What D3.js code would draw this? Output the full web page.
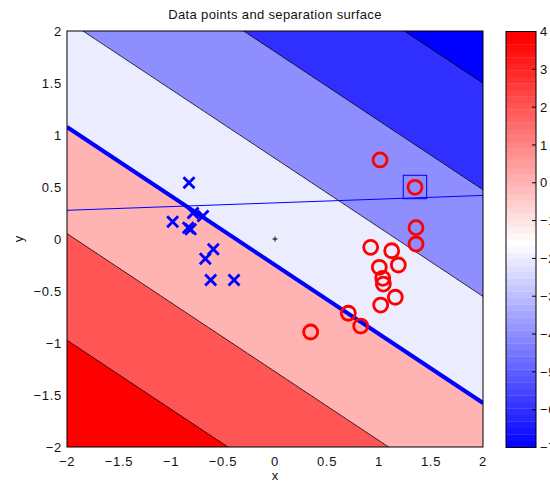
<!DOCTYPE html>
<html><head><meta charset="utf-8">
<script src="https://cdn.jsdelivr.net/npm/d3@7"></script>
<style>
body{margin:0;background:#fff;}
svg{display:block;}
text{font-family:"Liberation Sans",Arial,Helvetica,sans-serif;fill:#111;}
</style>
</head><body>
<svg id="chart" width="550" height="483"></svg>
<script>
// ---- data ----
const surfaceWeights = [-1.2945, -1.951];   // f(x,y) = w1*x + w2*y + b
const surfaceBias = -0.488;
const contourLevels = [-6, -4, -2, 0, 2, 4];
const colorLimits = [-7, 4];
const colorStops = [-7, -1.6, 3.8];
const crossX = [-0.827, -0.788, -0.692, -0.984, -0.834, -0.811, -0.593, -0.670, -0.618, -0.394];
const crossY = [ 0.541,  0.250,  0.221,  0.166,  0.109,  0.093, -0.099, -0.190, -0.394, -0.394];
const circleX = [1.010, 1.346, 1.356, 1.356, 0.920, 1.122, 1.186, 1.003, 1.036, 1.042, 1.157, 1.016, 0.705, 0.824, 0.343];
const circleY = [0.760, 0.497, 0.109, -0.048, -0.080, -0.113, -0.250, -0.272, -0.378, -0.433, -0.560, -0.635, -0.714, -0.837, -0.894];
const thinLineX = [-2, 2];
const thinLineY = [0.276, 0.419];
const highlightX = [1.346];
const highlightY = [0.500];
const originX = [0];
const originY = [0];
const axisTicks = [-2, -1.5, -1, -0.5, 0, 0.5, 1, 1.5, 2];
const axisTickLabels = ["\u22122", "\u22121.5", "\u22121", "\u22120.5", "0", "0.5", "1", "1.5", "2"];
const colorbarTicks = [4, 3, 2, 1, 0, -1, -2, -3, -4, -5, -6, -7];
const titleText = "Data points and separation surface";

// ---- layout ----
const svg = d3.select("#chart");
const L = 67, R = 483, T = 31, B = 447;
const xScale = d3.scaleLinear().domain([-2, 2]).range([L, R]);
const yScale = d3.scaleLinear().domain([-2, 2]).range([B, T]);

const colorOf = d3.scaleLinear().domain(colorStops).range(["#0000ff", "#ffffff", "#ff0000"]).clamp(true);

// ---- surface grid ----
const N = 161, step = 4 / (N - 1);
const grid = new Array(N * N);
for (let j = 0; j < N; j++) {
  const yv = 2 - j * step;
  for (let i = 0; i < N; i++) {
    const xv = -2 + i * step;
    grid[j * N + i] = surfaceWeights[0] * xv + surfaceWeights[1] * yv + surfaceBias;
  }
}
const proj = d3.geoTransform({
  point: function(x, y) {
    this.stream.point(xScale(-2 + (x - 0.5) * step), yScale(2 - (y - 0.5) * step));
  }
});
const path = d3.geoPath(proj);

svg.append("clipPath").attr("id", "plotclip")
  .append("rect").attr("x", L).attr("y", T).attr("width", R - L).attr("height", B - T);

const plot = svg.append("g").attr("clip-path", "url(#plotclip)");
plot.append("rect").attr("x", L).attr("y", T).attr("width", R - L).attr("height", B - T)
  .attr("fill", colorOf(colorLimits[0]));

const contours = d3.contours().size([N, N]).thresholds(contourLevels)(grid);
plot.selectAll("path.band").data(contours).join("path")
  .attr("class", "band")
  .attr("d", path)
  .attr("fill", d => colorOf(d.value))
  .attr("stroke", "#000")
  .attr("stroke-width", 0.8);

// decision boundary f = 0
const bx = [-2, 2];
const boundary = bx.map(x => [x, -(surfaceWeights[0] * x + surfaceBias) / surfaceWeights[1]]);
plot.append("path")
  .attr("d", d3.line().x(d => xScale(d[0])).y(d => yScale(d[1]))(boundary))
  .attr("fill", "none").attr("stroke", "#0000ff").attr("stroke-width", 4);

// thin line
plot.append("path")
  .attr("d", d3.line().x(d => xScale(d[0])).y(d => yScale(d[1]))(thinLineX.map((x, i) => [x, thinLineY[i]])))
  .attr("fill", "none").attr("stroke", "#0000ff").attr("stroke-width", 1);

// crosses
const cs = 5.5;
const crossG = plot.append("g").attr("stroke", "#0000ff").attr("stroke-width", 2.8).attr("stroke-linecap", "butt");
crossX.forEach((x, i) => {
  const px = xScale(x), py = yScale(crossY[i]);
  crossG.append("path").attr("d", `M${px - cs},${py - cs}L${px + cs},${py + cs}M${px - cs},${py + cs}L${px + cs},${py - cs}`);
});

// circles
plot.append("g").selectAll("circle").data(circleX).join("circle")
  .attr("cx", d => xScale(d)).attr("cy", (d, i) => yScale(circleY[i])).attr("r", 7)
  .attr("fill", "none").attr("stroke", "#ff0000").attr("stroke-width", 2.8);

// highlight square
plot.append("g").selectAll("rect").data(highlightX).join("rect")
  .attr("x", d => xScale(d) - 11.7).attr("y", (d, i) => yScale(highlightY[i]) - 11.7)
  .attr("width", 23.4).attr("height", 23.4)
  .attr("fill", "none").attr("stroke", "#0000ff").attr("stroke-width", 1);

// origin plus
originX.forEach((x, i) => {
  const px = xScale(x), py = yScale(originY[i]);
  plot.append("path").attr("d", `M${px - 2.5},${py}L${px + 2.5},${py}M${px},${py - 2.5}L${px},${py + 2.5}`)
    .attr("stroke", "#000").attr("stroke-width", 1);
});

// axes box
svg.append("rect").attr("x", L).attr("y", T).attr("width", R - L).attr("height", B - T)
  .attr("fill", "none").attr("stroke", "#000").attr("stroke-width", 1);

// tick labels
const fs = 13, ls = 0.7;
svg.append("g").selectAll("text").data(axisTicks).join("text")
  .attr("x", d => xScale(d)).attr("y", 466).attr("text-anchor", "middle")
  .style("font-size", fs + "px").style("letter-spacing", ls + "px")
  .text((d, i) => axisTickLabels[i]);
svg.append("g").selectAll("text").data(axisTicks).join("text")
  .attr("x", 62).attr("y", d => yScale(d)).attr("dy", "0.36em").attr("text-anchor", "end")
  .style("font-size", fs + "px").style("letter-spacing", ls + "px")
  .text((d, i) => axisTickLabels[i]);

// axis titles
svg.append("text").attr("x", (L + R) / 2).attr("y", 480).attr("text-anchor", "middle")
  .style("font-size", "13px").text("x");
svg.append("text").attr("transform", `translate(23,${(T + B) / 2}) rotate(-90)`).attr("text-anchor", "middle")
  .style("font-size", "13px").text("y");
svg.append("text").attr("x", (L + R) / 2).attr("y", 19).attr("text-anchor", "middle")
  .style("font-size", "13px").style("letter-spacing", "0.35px").text(titleText);

// colorbar
const cbL = 506, cbR = 536;
const cbScale = d3.scaleLinear().domain(colorLimits).range([B + 0.5, T + 0.5]);
const cbSteps = d3.range(64);
const cbStep = (colorLimits[1] - colorLimits[0]) / 64;
svg.append("g").selectAll("rect").data(cbSteps).join("rect")
  .attr("x", cbL).attr("width", cbR - cbL)
  .attr("y", i => cbScale(colorLimits[0] + (i + 1) * cbStep))
  .attr("height", i => cbScale(colorLimits[0] + i * cbStep) - cbScale(colorLimits[0] + (i + 1) * cbStep) + 0.3)
  .attr("fill", i => colorOf(colorLimits[0] + (i + 0.5) * cbStep));
svg.append("rect").attr("x", cbL).attr("y", cbScale(colorLimits[1])).attr("width", cbR - cbL)
  .attr("height", cbScale(colorLimits[0]) - cbScale(colorLimits[1]))
  .attr("fill", "none").attr("stroke", "#000").attr("stroke-width", 1);
svg.append("g").selectAll("line").data(colorbarTicks).join("line")
  .attr("x1", cbR - 4).attr("x2", cbR).attr("y1", d => cbScale(d)).attr("y2", d => cbScale(d))
  .attr("stroke", "#000").attr("stroke-width", 1);
svg.append("g").selectAll("text").data(colorbarTicks).join("text")
  .attr("x", 540).attr("y", d => cbScale(d)).attr("dy", "0.36em")
  .style("font-size", fs + "px").style("letter-spacing", ls + "px")
  .text(d => d < 0 ? "\u2212" + Math.abs(d) : String(d));
</script>
</body></html>
